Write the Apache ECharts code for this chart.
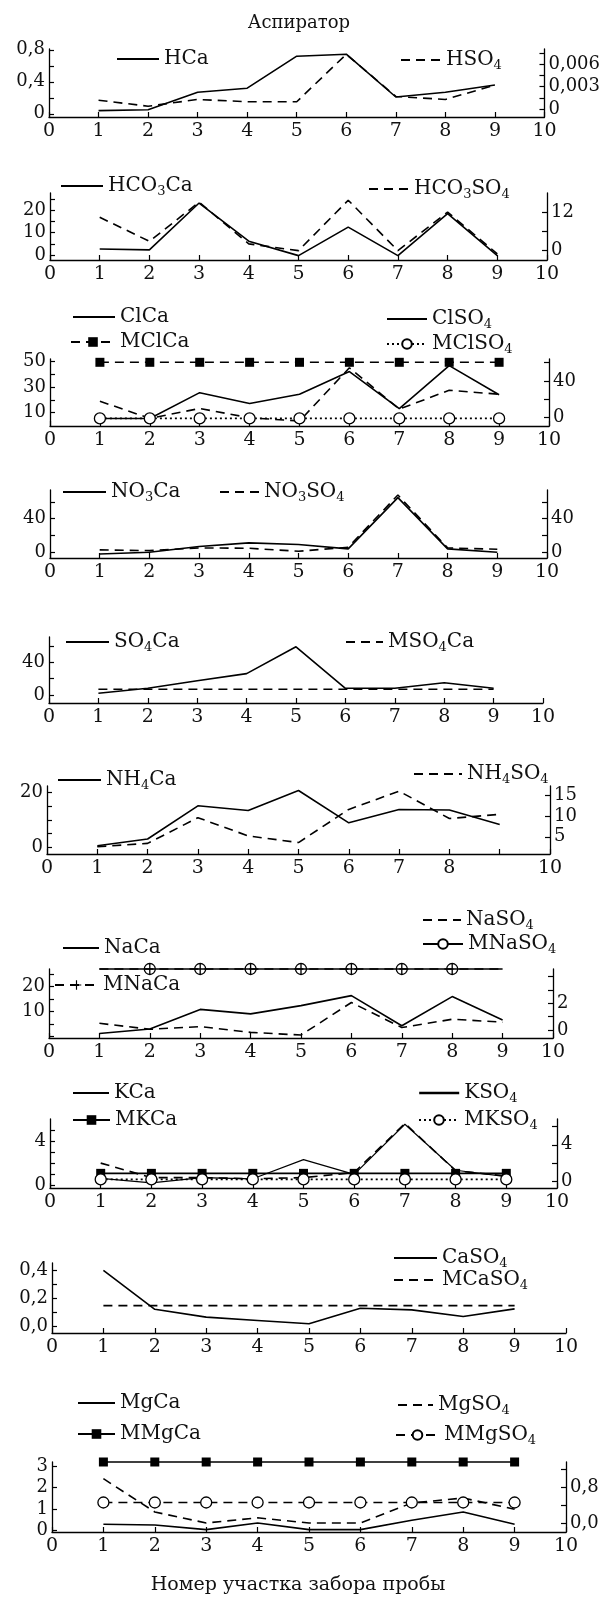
<!DOCTYPE html>
<html>
<head>
<meta charset="utf-8">
<script src="https://cdn.jsdelivr.net/npm/echarts@6/dist/echarts.min.js"></script>
<style>
  html, body { margin: 0; background: #fff; }
  #chart { width: 603px; height: 1597px; }
</style>
</head>
<body>
<div id="chart"></div>
<script>
// sampling sites (x axis)
const sites = [1, 2, 3, 4, 5, 6, 7, 8, 9];

// 1. Аспиратор
const hCa = [0.04, 0.05, 0.27, 0.32, 0.72, 0.745, 0.21, 0.27, 0.36];
const hSO4 = [0.0012, 0.0004, 0.0013, 0.001, 0.001, 0.0073, 0.0017, 0.0013, 0.0032];
// 2.
const hco3Ca = [2.7, 2.3, 23.3, 6.2, -0.3, 12.5, -0.3, 18.5, -0.3];
const hco3SO4 = [10.4, 2.9, 15.1, 2.1, 0, 15.7, 0, 12, -1];
// 3.
const clCa = [5.3, 5.3, 25.6, 17, 24.3, 42.2, 13.1, 46.9, 24];
const mClCa = [49.5, 49.5, 49.5, 49.5, 49.5, 49.5, 49.5, 49.5, 49.5];
const clSO4 = [18, -0.7, 10.1, 0, -3.6, 54.4, 9.4, 29.9, 25.6];
const mClSO4 = [-0.7, -0.7, -0.7, -0.7, -0.7, -0.7, -0.7, -0.7, -0.7];
// 4.
const no3Ca = [-2, 0, 6.8, 11.2, 9.2, 4, 65, 4, 0];
const no3SO4 = [2.8, 2, 5.2, 4.8, 1.2, 6, 68, 5.2, 3.6];
// 5.
const so4Ca = [2, 8, 17.2, 26, 58.8, 8, 8, 14.8, 8];
const mSO4Ca = [6.8, 6.8, 6.8, 6.8, 6.8, 6.8, 6.8, 6.8, 6.8];
// 6.
const nh4Ca = [0.7, 3.1, 15, 13.3, 20.5, 8.9, 13.7, 13.5, 8.3];
const nh4SO4 = [2.6, 3.4, 9.6, 5.2, 3.6, 11.6, 16, 9.4, 10.4];
// 7.
const naCa = [1.3, 3.1, 10.9, 9.1, 12.4, 16.4, 4.4, 16, 6.7];
const mNaCa = [27, 27, 27, 27, 27, 27, 27, 27, 27];
const naSO4 = [0.5, 0.05, 0.25, -0.18, -0.38, 2.05, 0.18, 0.8, 0.58];
const mNaSO4 = [4.55, 4.55, 4.55, 4.55, 4.55, 4.55, 4.55, 4.55, 4.55];
const mNaMarked = [2, 3, 4, 5, 6, 7, 8];
// 8.
const kCa = [0.62, 0.22, 0.68, 0.58, 2.31, 0.98, 5.5, 1.35, 0.77];
const mKCa = [1.07, 1.07, 1.07, 1.07, 1.07, 1.07, 1.07, 1.07, 1.07];
const kSO4 = [1.98, 0.38, 0.38, 0.27, 0.38, 0.95, 6.35, 1.14, 0.57];
const mKSO4 = [0.19, 0.19, 0.19, 0.19, 0.19, 0.19, 0.19, 0.19, 0.19];
// 9.
const caSO4 = [0.4, 0.122, 0.066, 0.042, 0.019, 0.129, 0.118, 0.071, 0.125];
const mCaSO4 = [0.148, 0.148, 0.148, 0.148, 0.148, 0.148, 0.148, 0.148, 0.148];
// 10.
const mgCa = [0.28, 0.25, 0.03, 0.34, 0.03, 0.03, 0.47, 0.86, 0.28];
const mMgCa = [3.2, 3.2, 3.2, 3.2, 3.2, 3.2, 3.2, 3.2, 3.2];
const mgSO4 = [1.0, 0.26, 0.015, 0.13, 0.015, 0.015, 0.46, 0.57, 0.32];
const mMgSO4 = [0.47, 0.47, 0.47, 0.47, 0.47, 0.47, 0.47, 0.47, 0.47];

const FONT = '"DejaVu Serif", serif';
const INK = '#111';

const comma = v => String(+v.toFixed(6)).replace('.', ',');
const comma1 = v => v.toFixed(1).replace('.', ',');

const grids = [], xAxes = [], yAxes = [], series = [], legends = [];

function yAxis(gi, pos, a) {
  return {
    gridIndex: gi, type: 'value', position: pos, min: a.min, max: a.max,
    axisLine: { show: true, onZero: false, lineStyle: { color: '#000', width: 1.3 } },
    axisTick: { show: true, inside: true, length: 5, customValues: a.ticks, lineStyle: { color: '#000', width: 1.2 } },
    axisLabel: { customValues: a.labels, formatter: a.fmt || comma, margin: 4,
      fontFamily: FONT, fontSize: 18, color: INK },
    splitLine: { show: false }
  };
}

function addPanel(p) {
  const gi = grids.length;
  grids.push({ left: p.x0, top: p.top, width: p.x10 - p.x0, height: p.bottom - p.top });
  xAxes.push({
    gridIndex: gi, type: 'value', min: 0, max: 10, interval: 1,
    axisLine: { onZero: false, lineStyle: { color: '#000', width: 1.3 } },
    axisTick: { inside: true, length: 5, lineStyle: { color: '#000', width: 1.2 } },
    axisLabel: { margin: 5, fontFamily: FONT, fontSize: 19, color: INK, showMinLabel: true, showMaxLabel: true,
      formatter: v => (p.hideX && p.hideX.includes(v)) ? '' : String(v) },
    splitLine: { show: false }
  });
  const yl = yAxes.length;
  yAxes.push(yAxis(gi, 'left', p.left));
  let yr = yl;
  if (p.right) { yr = yAxes.length; yAxes.push(yAxis(gi, 'right', p.right)); }
  return { xi: gi, yl, yr };
}

function line(name, values, xi, yi, st) {
  st = st || {};
  const data = values.map((v, i) => {
    const item = { value: [sites[i], v] };
    if (st.marked && !st.marked.includes(sites[i])) item.symbol = 'none';
    return item;
  });
  series.push({
    type: 'line', name, xAxisIndex: xi, yAxisIndex: yi, data,
    symbol: st.symbol || 'none', symbolSize: st.size || 10, showSymbol: !!st.symbol,
    lineStyle: { color: '#000', width: st.width || 1.6, type: st.type || 'solid' },
    itemStyle: { color: st.fill || '#000', borderColor: '#000', borderWidth: st.border || 0 },
    clip: false, animation: false, z: st.z || 2, emphasis: { disabled: true }
  });
}

function richName(n) {
  return n.replace(/(\d+)|(\D+)/g, (m, d, t) => d ? '{s|' + d + '}' : '{n|' + t + '}');
}

function legendAt(name, x, y, w, extra) {
  const item = Object.assign({ name }, extra || {});
  const s = series.find(q => q.name === name);
  if (s && s.symbol === 'none') item.itemStyle = Object.assign({ opacity: 0 }, item.itemStyle || {});
  legends.push({
    left: x, top: y - 12, itemWidth: w, itemHeight: 12, padding: 0, selectedMode: false,
    data: [item], formatter: richName,
    textStyle: {
      rich: {
        n: { fontFamily: FONT, fontSize: 20, color: INK, lineHeight: 24, verticalAlign: 'middle' },
        s: { fontFamily: FONT, fontSize: 13, color: INK, lineHeight: 14, verticalAlign: 'bottom' }
      }
    }
  });
}

const solid = {};
const dashed = { type: [9, 6] };
const dotted = { type: [2, 3] };
const square = { symbol: 'rect', size: 9, z: 4 };
const ring = { symbol: 'circle', size: 11, fill: '#fff', border: 1.3, z: 4 };
const PLUS = 'path://M0,4.4h10v1.2h-10zM4.4,0h1.2v10h-1.2z';

// 1
let a = addPanel({ x0: 49, x10: 545, top: 49, bottom: 117,
  left: { min: -0.04, max: 0.81, ticks: [0, 0.2, 0.4, 0.6, 0.8], labels: [0, 0.4, 0.8] },
  right: { min: -0.00103, max: 0.008, ticks: [0, 0.0015, 0.003, 0.0045, 0.006, 0.0075], labels: [0, 0.003, 0.006] } });
line('HCa', hCa, a.xi, a.yl, solid);
line('HSO4', hSO4, a.xi, a.yr, dashed);
legendAt('HCa', 116, 61, 42);
legendAt('HSO4', 400, 62, 40);

// 2
a = addPanel({ x0: 50, x10: 547, top: 193, bottom: 260,
  left: { min: -2.26, max: 27.8, ticks: [0, 5, 10, 15, 20, 25], labels: [0, 10, 20] },
  right: { min: -2.92, max: 17.95, ticks: [0, 6, 12], labels: [0, 12] } });
line('HCO3Ca', hco3Ca, a.xi, a.yl, solid);
line('HCO3SO4', hco3SO4, a.xi, a.yr, dashed);
legendAt('HCO3Ca', 60, 188, 42);
legendAt('HCO3SO4', 368, 191, 40);

// 3
a = addPanel({ x0: 50, x10: 549, top: 359, bottom: 426,
  left: { min: -0.65, max: 52.1, ticks: [10, 20, 30, 40, 50], labels: [10, 30, 50] },
  right: { min: -9, max: 64, ticks: [0, 20, 40, 60], labels: [0, 40] } });
line('ClCa', clCa, a.xi, a.yl, solid);
line('MClCa', mClCa, a.xi, a.yl, Object.assign({}, dashed, square));
line('ClSO4', clSO4, a.xi, a.yr, dashed);
line('MClSO4', mClSO4, a.xi, a.yr, Object.assign({}, dotted, ring));
legendAt('ClCa', 72, 319, 42);
legendAt('MClCa', 70, 344, 44);
legendAt('ClSO4', 386, 321, 40, { lineStyle: { type: 'solid', width: 2 } });
legendAt('MClSO4', 386, 346, 40);

// 4
a = addPanel({ x0: 50, x10: 547, top: 490, bottom: 558,
  left: { min: -6.8, max: 74, ticks: [0, 20, 40, 60], labels: [0, 40] },
  right: { min: -6.8, max: 74, ticks: [0, 20, 40, 60], labels: [0, 40] } });
line('NO3Ca', no3Ca, a.xi, a.yl, solid);
line('NO3SO4', no3SO4, a.xi, a.yr, dashed);
legendAt('NO3Ca', 62, 494, 43);
legendAt('NO3SO4', 219, 494, 39);

// 5
a = addPanel({ x0: 49, x10: 543, top: 637, bottom: 703,
  left: { min: -10, max: 70.8, ticks: [0, 20, 40, 60], labels: [0, 40] } });
line('SO4Ca', so4Ca, a.xi, a.yl, solid);
line('MSO4Ca', mSO4Ca, a.xi, a.yl, dashed);
legendAt('SO4Ca', 65, 644, 43);
legendAt('MSO4Ca', 345, 644, 37);

// 6
a = addPanel({ x0: 47, x10: 550, top: 786, bottom: 854, hideX: [9],
  left: { min: -2.26, max: 22.1, ticks: [0, 5, 10, 15, 20], labels: [0, 20] },
  right: { min: 0.84, max: 17.24, ticks: [5, 10, 15], labels: [5, 10, 15] } });
line('NH4Ca', nh4Ca, a.xi, a.yl, solid);
line('NH4SO4', nh4SO4, a.xi, a.yr, dashed);
legendAt('NH4Ca', 57, 782, 43);
legendAt('NH4SO4', 413, 776, 48);

// 7
a = addPanel({ x0: 49, x10: 553, top: 969, bottom: 1038,
  left: { min: -0.5, max: 27, ticks: [0, 5, 10, 15, 20, 25], labels: [10, 20] },
  right: { min: -0.6, max: 4.55, ticks: [0, 1, 2, 3, 4], labels: [0, 2] } });
line('NaCa', naCa, a.xi, a.yl, solid);
line('MNaCa', mNaCa, a.xi, a.yl, Object.assign({}, dashed, { symbol: PLUS, size: 11, z: 5, marked: mNaMarked }));
line('NaSO4', naSO4, a.xi, a.yr, dashed);
line('MNaSO4', mNaSO4, a.xi, a.yr, Object.assign({}, solid, ring, { marked: mNaMarked }));
legendAt('NaSO4', 422, 922, 38);
legendAt('MNaSO4', 422, 946, 40);
legendAt('NaCa', 62, 950, 36);
legendAt('MNaCa', 54, 987, 43);

// 8
a = addPanel({ x0: 50, x10: 557, top: 1119, bottom: 1188,
  left: { min: -0.25, max: 5.97, ticks: [0, 1, 2, 3, 4, 5], labels: [0, 4] },
  right: { min: -0.76, max: 6.84, ticks: [0, 2, 4, 6], labels: [0, 4] } });
line('KCa', kCa, a.xi, a.yl, { width: 1.2 });
line('MKCa', mKCa, a.xi, a.yl, Object.assign({}, solid, square));
line('KSO4', kSO4, a.xi, a.yr, dashed);
line('MKSO4', mKSO4, a.xi, a.yr, Object.assign({}, dotted, ring));
legendAt('KCa', 72, 1095, 36);
legendAt('MKCa', 72, 1122, 37);
legendAt('KSO4', 418, 1095, 40, { lineStyle: { type: 'solid', width: 2.4 } });
legendAt('MKSO4', 418, 1122, 40);

// 9
a = addPanel({ x0: 52, x10: 566, top: 1263, bottom: 1333,
  left: { min: -0.047, max: 0.452, ticks: [0, 0.1, 0.2, 0.3, 0.4], labels: [0, 0.2, 0.4], fmt: comma1 } });
line('CaSO4', caSO4, a.xi, a.yl, solid);
line('MCaSO4', mCaSO4, a.xi, a.yl, dashed);
legendAt('CaSO4', 393, 1260, 43);
legendAt('MCaSO4', 393, 1282, 43);

// 10
a = addPanel({ x0: 52, x10: 566, top: 1462, bottom: 1532,
  left: { min: -0.08, max: 3.2, ticks: [0, 1, 2, 3], labels: [0, 1, 2, 3] },
  right: { min: -0.185, max: 1.37, ticks: [0, 0.4, 0.8, 1.2], labels: [0, 0.8], fmt: comma1 } });
line('MgCa', mgCa, a.xi, a.yl, solid);
line('MMgCa', mMgCa, a.xi, a.yl, Object.assign({}, solid, square));
line('MgSO4', mgSO4, a.xi, a.yr, dashed);
line('MMgSO4', mMgSO4, a.xi, a.yr, Object.assign({}, dashed, ring));
legendAt('MgCa', 77, 1405, 37);
legendAt('MMgCa', 77, 1436, 37);
legendAt('MgSO4', 397, 1407, 35);
legendAt('MMgSO4', 395, 1437, 43);

const chart = echarts.init(document.getElementById('chart'), null, { renderer: 'canvas' });
chart.setOption({
  backgroundColor: '#fff',
  animation: false,
  grid: grids,
  xAxis: xAxes,
  yAxis: yAxes,
  legend: legends,
  series: series,
  graphic: [
    { type: 'text', x: 299, y: 23, style: { text: 'Аспиратор', font: '18px ' + FONT, fill: INK, align: 'center', verticalAlign: 'middle' } },
    { type: 'text', x: 298, y: 1585, style: { text: 'Номер участка забора пробы', font: '19px ' + FONT, fill: INK, align: 'center', verticalAlign: 'middle' } }
  ]
});
</script>
</body>
</html>
